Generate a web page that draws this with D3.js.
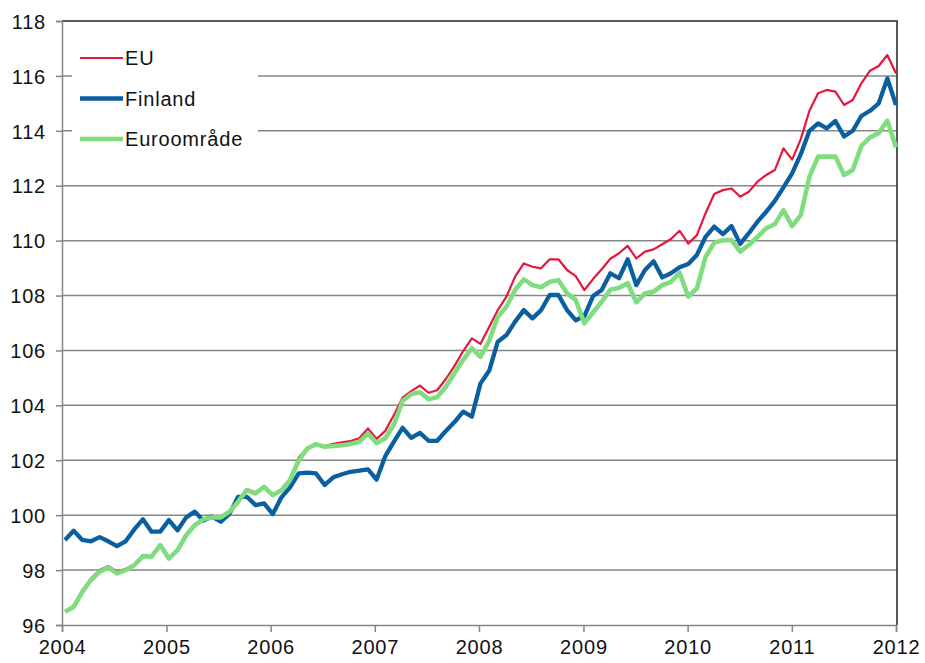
<!DOCTYPE html>
<html>
<head>
<meta charset="utf-8">
<script src="https://cdn.jsdelivr.net/npm/d3@7"></script>
<style>
  body { margin: 0; background: #fff; }
  text { font-family: "Liberation Sans", Arial, sans-serif; }
</style>
</head>
<body>
<div id="chart"></div>
<script>
var width = 925;
var height = 663;

// monthly index values, Jan 2004 .. Jan 2012
var startYear = 2004;
var yearTicks = [2004, 2005, 2006, 2007, 2008, 2009, 2010, 2011, 2012];
var valueTicks = [96, 98, 100, 102, 104, 106, 108, 110, 112, 114, 116, 118];
var seriesNames = ["EU", "Finland", "Euroområde"];

var eu = [
    96.5, 96.7, 97.25, 97.7, 98.0, 98.15, 97.95, 98.05, 98.2, 98.52, 98.52, 98.92,
    98.45, 98.76, 99.3, 99.66, 99.88, 99.95, 99.95, 100.15, 100.52, 100.95, 100.83, 101.06,
    100.76, 100.94, 101.32, 102.1, 102.45, 102.6, 102.52, 102.6, 102.65, 102.7, 102.8, 103.16,
    102.78, 103.07, 103.65, 104.28, 104.52, 104.72, 104.46, 104.55, 104.96, 105.44, 105.98, 106.44,
    106.24, 106.85, 107.47, 107.96, 108.69, 109.17, 109.05, 108.99, 109.32, 109.32, 108.93, 108.71,
    108.2, 108.6, 108.96, 109.34, 109.54, 109.81, 109.35, 109.6, 109.68, 109.87, 110.06, 110.36,
    109.89, 110.2, 111.0, 111.7, 111.84, 111.9, 111.6, 111.78, 112.15, 112.39, 112.57, 113.36,
    112.95, 113.7, 114.73, 115.37, 115.49, 115.43, 114.94, 115.12, 115.73, 116.19, 116.36, 116.76,
    116.09
];

var finland = [
    99.1, 99.43, 99.1, 99.05, 99.2, 99.05, 98.87, 99.05, 99.48, 99.85, 99.4, 99.4,
    99.82, 99.45, 99.92, 100.13, 99.8, 99.95, 99.76, 100.05, 100.67, 100.67, 100.37, 100.43,
    100.04, 100.65, 101.01, 101.52, 101.55, 101.52, 101.1, 101.38, 101.49, 101.58, 101.62, 101.67,
    101.3, 102.15, 102.68, 103.18, 102.82, 103.0, 102.71, 102.71, 103.07, 103.39, 103.77, 103.59,
    104.8, 105.26, 106.32, 106.56, 107.05, 107.47, 107.17, 107.47, 108.02, 108.02, 107.47, 107.1,
    107.25, 107.98, 108.2, 108.81, 108.63, 109.32, 108.38, 108.93, 109.25, 108.66, 108.81, 109.03,
    109.15, 109.48, 110.14, 110.51, 110.24, 110.53, 109.88, 110.27, 110.69, 111.05, 111.45, 111.94,
    112.45, 113.15, 114.0, 114.27, 114.09, 114.36, 113.79, 114.0, 114.54, 114.73, 115.0, 115.91,
    114.94
];

var euroArea = [
    96.48, 96.66, 97.21, 97.64, 97.94, 98.1, 97.88, 98.0, 98.18, 98.51, 98.49, 98.91,
    98.42, 98.73, 99.27, 99.64, 99.85, 99.92, 99.92, 100.13, 100.49, 100.91, 100.79, 101.03,
    100.73, 100.91, 101.28, 102.0, 102.43, 102.59, 102.49, 102.52, 102.55, 102.59, 102.67, 102.98,
    102.62, 102.8, 103.3, 104.16, 104.41, 104.48, 104.22, 104.3, 104.68, 105.18, 105.66, 106.08,
    105.77, 106.35, 107.23, 107.59, 108.2, 108.59, 108.38, 108.3, 108.5, 108.56, 108.08, 107.84,
    106.99, 107.38, 107.78, 108.21, 108.28, 108.45, 107.75, 108.08, 108.14, 108.38, 108.5, 108.83,
    107.96, 108.26, 109.41, 109.92, 110.02, 110.02, 109.6, 109.84, 110.14, 110.45, 110.6, 111.11,
    110.53, 110.93, 112.33, 113.06, 113.06, 113.06, 112.39, 112.57, 113.45, 113.76, 113.91, 114.37,
    113.4
];

var plotLeft = 62, plotRight = 897, plotTop = 21, plotBottom = 625;

var svg = d3.select("#chart")
    .append("svg")
    .attr("width", width)
    .attr("height", height);

var xAxisScale = d3.scaleTime()
    .domain([new Date(startYear, 0, 1), new Date(2012, 0, 1)])
    .range([plotLeft, plotRight - 1]);

// points sit a little right of the year tick, like the original
var xm = d3.scaleLinear()
    .domain([0, eu.length - 1])
    .range([plotLeft + 3, plotRight - 1]);

var y = d3.scaleLinear()
    .domain([96, 118])
    .range([plotBottom, plotTop]);

// gridlines
svg.append("g")
    .selectAll("line")
    .data(valueTicks.slice(1, -1))
    .enter()
    .append("line")
    .attr("x1", plotLeft)
    .attr("x2", plotRight)
    .attr("y1", d => y(d))
    .attr("y2", d => y(d))
    .attr("stroke", "#868686")
    .attr("stroke-width", 1.5);

// top and right frame
svg.append("path")
    .attr("d", "M" + plotLeft + "," + plotTop + "H" + plotRight + "V" + plotBottom)
    .attr("fill", "none")
    .attr("stroke", "#222")
    .attr("stroke-width", 1.5);

// y axis
var yAxis = d3.axisLeft(y)
    .tickValues(valueTicks)
    .tickSize(6)
    .tickPadding(10);
var gy = svg.append("g")
    .attr("transform", "translate(" + plotLeft + ",0)")
    .call(yAxis);

// x axis
var xAxis = d3.axisBottom(xAxisScale)
    .tickValues(yearTicks.map(d => new Date(d, 0, 1)))
    .tickFormat(d3.timeFormat("%Y"))
    .tickSize(7)
    .tickPadding(8);
var gx = svg.append("g")
    .attr("transform", "translate(0," + plotBottom + ")")
    .call(xAxis);

[gx, gy].forEach(function(g) {
    g.select(".domain").attr("stroke", "#868686").attr("stroke-width", 1.5);
    g.selectAll(".tick line").attr("stroke", "#868686").attr("stroke-width", 1.5);
    g.selectAll(".tick text")
        .attr("fill", "#111")
        .style("font-size", "20px")
        .style("letter-spacing", "0.8px")
        .style("font-family", "'Liberation Sans', Arial, sans-serif");
});
gy.selectAll(".tick text").attr("dy", "0.36em");

var lineGenerator = d3.line()
    .x((d, i) => xm(i))
    .y(d => y(d))
    .curve(d3.curveLinear);

var series = [
    { name: seriesNames[0], values: eu, color: "#e4173e", width: 2.2 },
    { name: seriesNames[1], values: finland, color: "#0a5fa0", width: 4.3 },
    { name: seriesNames[2], values: euroArea, color: "#7fdc7f", width: 4.6 }
];

svg.append("g")
    .selectAll("path")
    .data(series)
    .enter()
    .append("path")
    .attr("d", d => lineGenerator(d.values))
    .attr("fill", "none")
    .attr("stroke", d => d.color)
    .attr("stroke-width", d => d.width)
    .attr("stroke-linejoin", "round");

// legend on a white box over the gridlines
var legend = svg.append("g");
legend.append("rect")
    .attr("x", 72)
    .attr("y", 34)
    .attr("width", 186)
    .attr("height", 124)
    .attr("fill", "#fff");

var items = legend.selectAll(".item")
    .data(series)
    .enter()
    .append("g")
    .attr("class", "item")
    .attr("transform", (d, i) => "translate(0," + (58 + i * 40.5) + ")");

items.append("line")
    .attr("x1", 80)
    .attr("x2", 123)
    .attr("stroke", d => d.color)
    .attr("stroke-width", d => d.width);

items.append("text")
    .attr("x", 125)
    .attr("y", 7)
    .text(d => d.name)
    .style("font-size", "20px")
    .style("letter-spacing", "0.8px")
    .attr("fill", "#111");
</script>
</body>
</html>
